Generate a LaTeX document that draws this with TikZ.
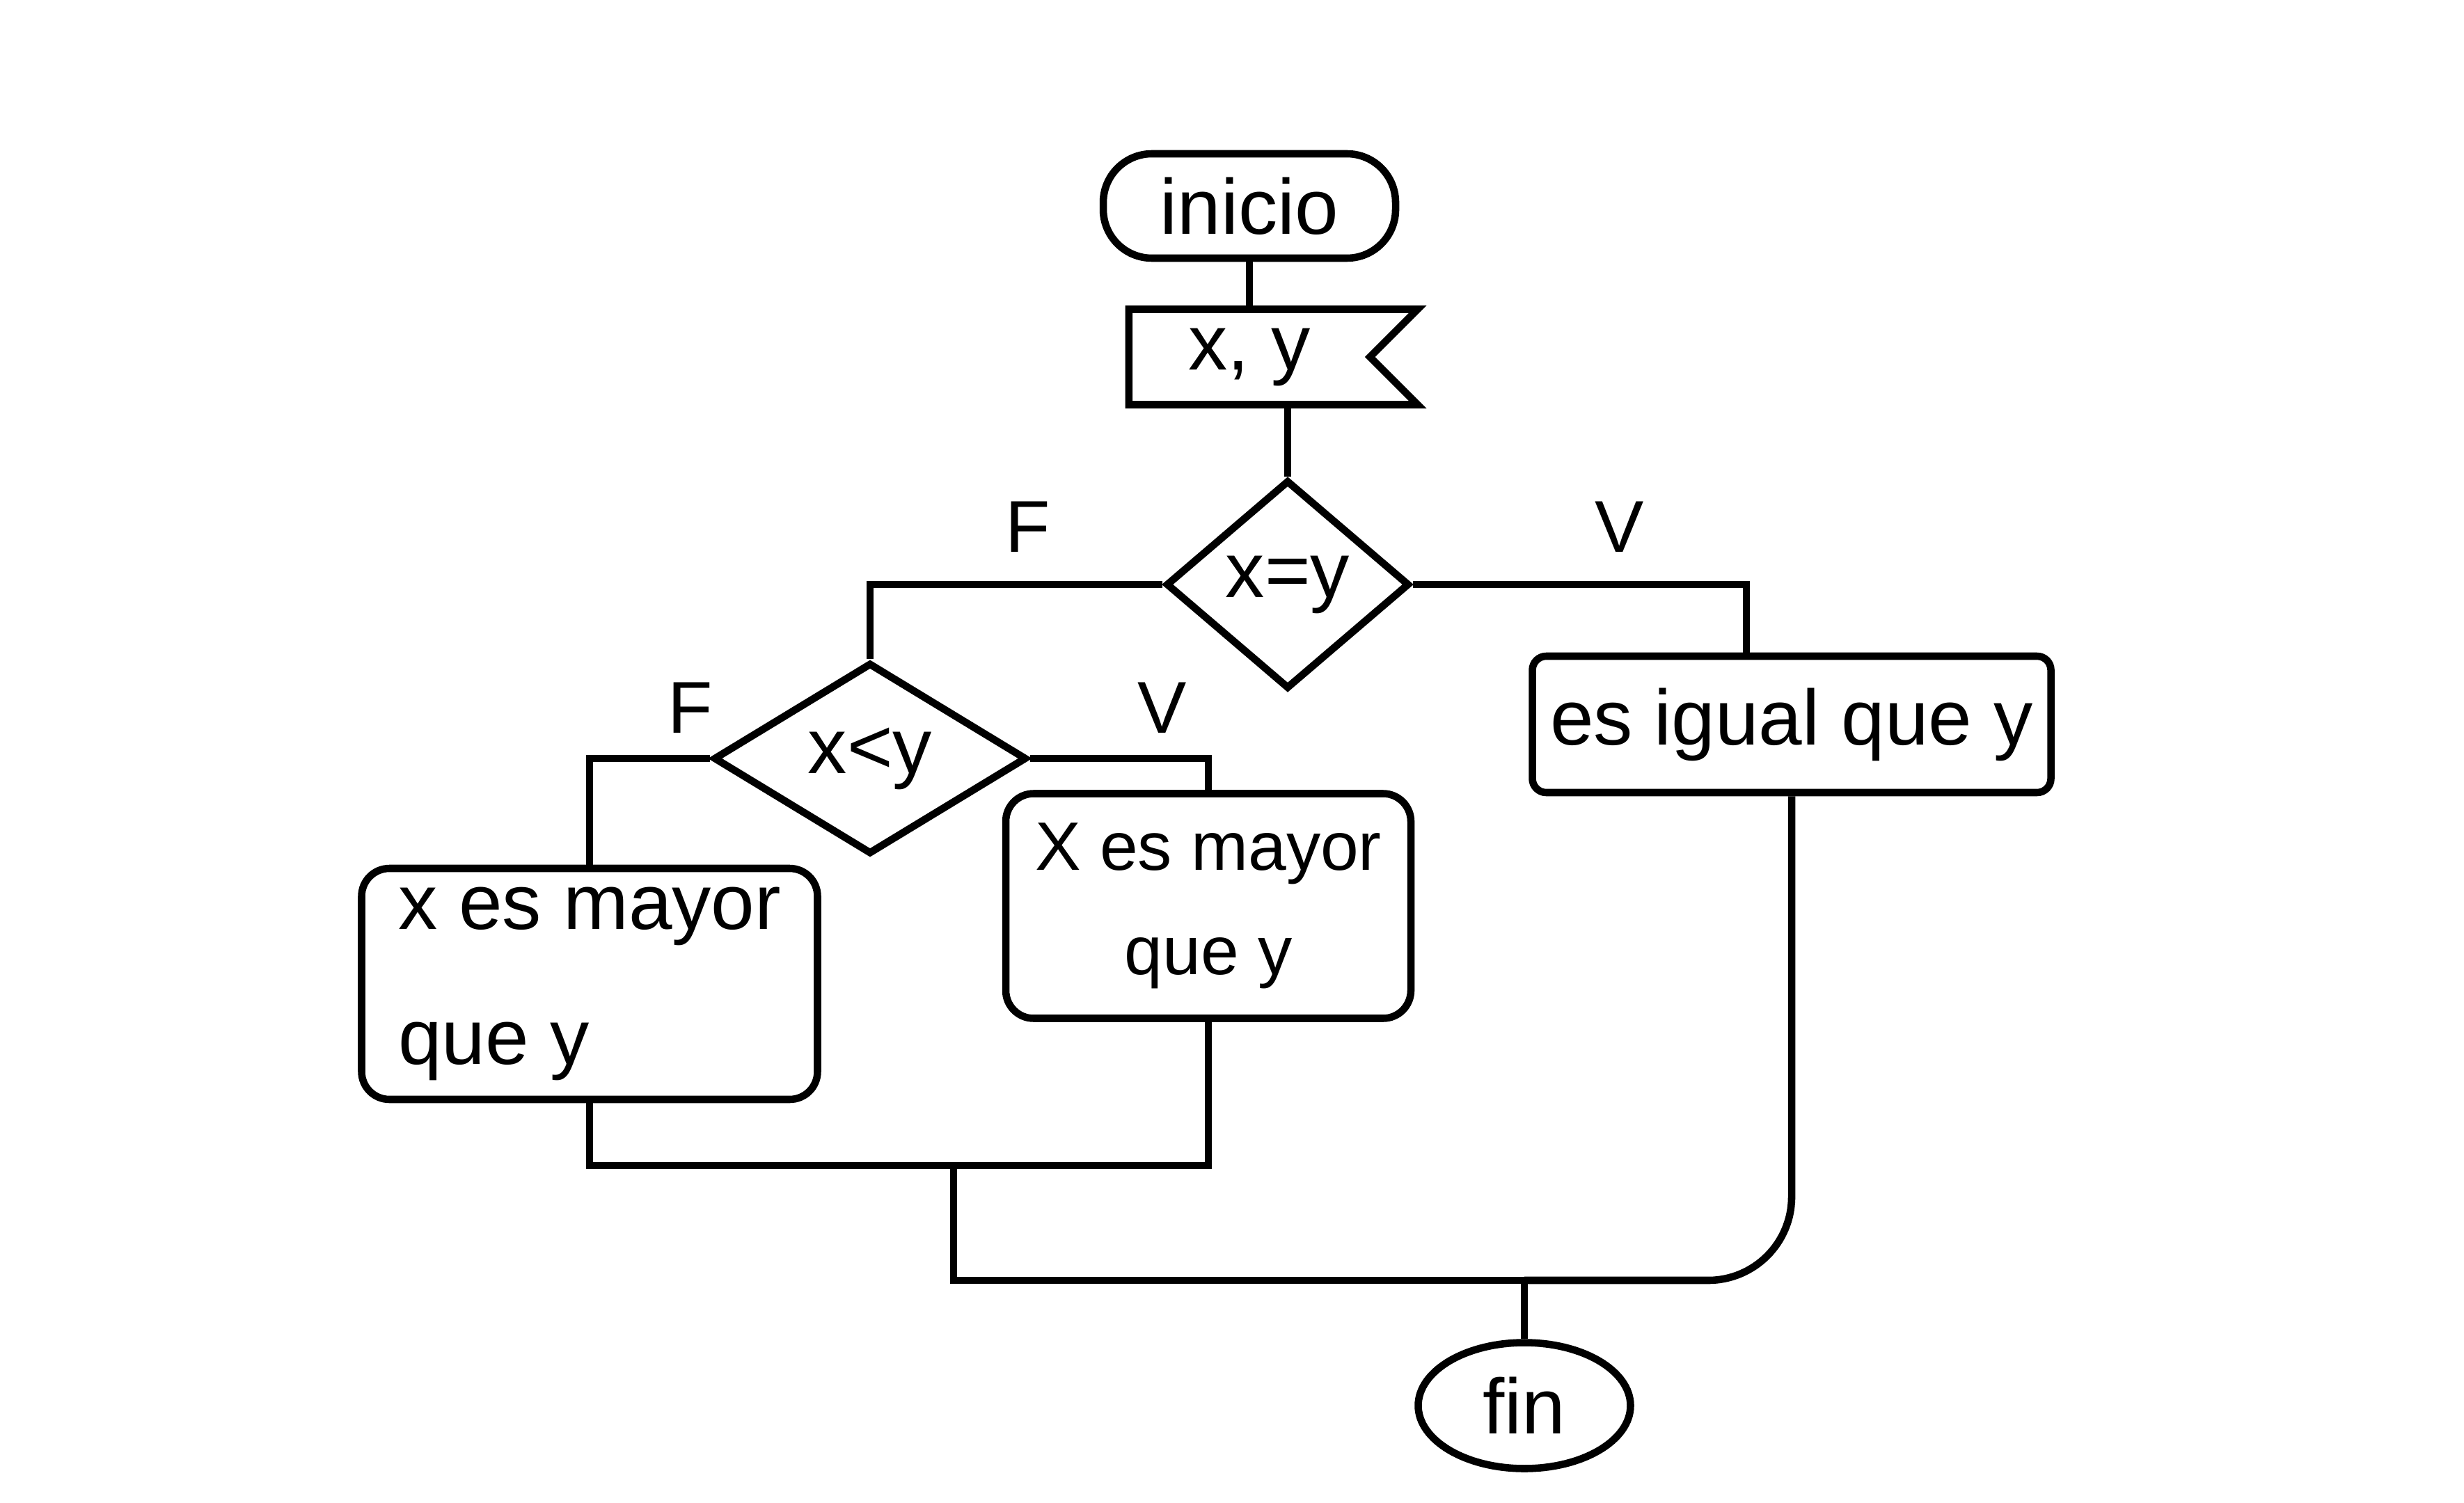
\documentclass[tikz,border=0pt]{standalone}
\usepackage{fontspec}
\setmainfont{Liberation Sans}
\usetikzlibrary{positioning,shapes.geometric,shapes.symbols}

\begin{document}
\begin{tikzpicture}[
  terminal/.style={draw, line width=3pt, rounded corners=7mm, minimum width=4.2cm, minimum height=1.5cm, font=\fontsize{32}{38}\selectfont},
  cierre/.style={draw, ellipse, line width=3pt, minimum width=3.05cm, minimum height=1.81cm, font=\fontsize{32}{38}\selectfont},
  entrada/.style={draw, signal, signal from=east, signal to=nowhere, line width=3pt, minimum width=4.15cm, minimum height=1.37cm, font=\fontsize{32}{38}\selectfont},
  decision/.style={draw, diamond, line width=3pt, inner sep=0pt, font=\fontsize{32}{38}\selectfont},
  proceso/.style={draw, rectangle, rounded corners=4mm, line width=3pt, font=\fontsize{32}{38}\selectfont},
  flujo/.style={line width=3pt},
  rotulo/.style={font=\fontsize{30}{36}\selectfont},
]
\useasboundingbox (0,0) rectangle (35.4,-21.6);

% ─── Inicio y lectura ───
\node[terminal] (inicio) at (17.95,-2.96) {inicio};
\node[entrada] (datos) at (17.95,-5.13) {x, y};

% ─── Decisiones ───
\node[decision, minimum width=3.5cm, minimum height=3.0cm] (cond1) at (18.5,-8.4) {x=y};
\node[decision, minimum width=4.5cm, minimum height=2.75cm] (cond2) at (12.5,-10.9) {x<y};

% ─── Salidas ───
\node[proceso, rounded corners=2mm, minimum width=7.45cm, minimum height=1.96cm] (igual) at (25.74,-10.41) {es igual que y};
\node[proceso, align=left, minimum width=6.55cm, minimum height=3.32cm] (mayor1) at (8.47,-14.14) {x es mayor\\[6mm]que y};
\node[proceso, align=center, minimum width=5.82cm, minimum height=3.23cm, font=\fontsize{28}{34}\selectfont] (mayor2) at (17.36,-13.02) {X es mayor\\[3mm]que y};

\node[cierre] (fin) at (21.9,-20.2) {fin};

% puntos de union
\coordinate (union1) at (13.7,-16.75);
\coordinate (union2) at (21.9,-18.4);

% ─── Conexiones ───
\draw[flujo] (inicio.south) -- (datos.north);
\draw[flujo] (datos.south -| cond1.north) -- (cond1.north);
\draw[flujo] (cond1.west) -| node[rotulo, above=3mm, pos=0.23] {F} (cond2.north);
\draw[flujo] (cond1.east) -| node[rotulo, above=3mm, pos=0.31] {V} ([xshift=-0.65cm]igual.north);
\draw[flujo] (cond2.west) -| node[rotulo, above=2mm, pos=0.08] {F} (mayor1.north);
\draw[flujo] (cond2.east) -| node[rotulo, above=2mm, pos=0.37] {V} (mayor2.north);

% ramas que se juntan
\draw[flujo] (mayor1.south) |- (union1) -| (mayor2.south);
\draw[flujo] (union1) |- (union2);
\draw[flujo, rounded corners=1.2cm] (igual.south) |- (union2);
\draw[flujo] (union2) -- (fin.north);

\end{tikzpicture}
\end{document}
